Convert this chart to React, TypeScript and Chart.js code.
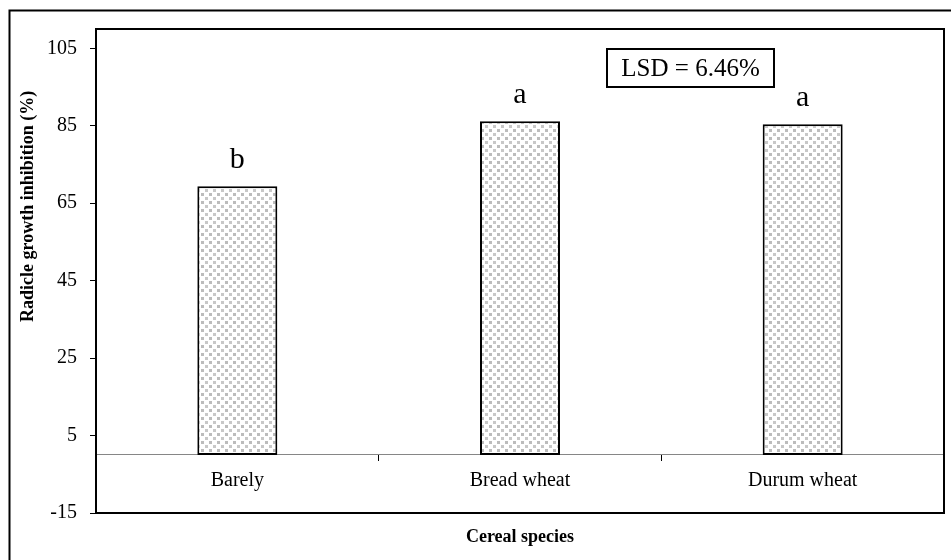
import React, { useEffect, useRef } from "react";
import { Chart, registerables } from "chart.js";

Chart.register(...registerables);

const categories = ["Barely", "Bread wheat", "Durum wheat"];
const inhibition = [69.4, 86.2, 85.4];
const letters = ["b", "a", "a"];
const yTicks = [-15, 5, 25, 45, 65, 85, 105];
const yMin = -15;
const yMax = 110;
const lsdLabel = "LSD = 6.46%";
const xTitle = "Cereal species";
const yTitle = "Radicle growth inhibition (%)";

const SERIF = "'Liberation Serif', 'Times New Roman', serif";

const decor = {
  id: "decor",
  afterDraw(chart: any) {
    const { ctx, chartArea: a } = chart;
    ctx.save();
    ctx.strokeStyle = "#000";
    ctx.lineWidth = 2;
    // outer frame (left and top visible)
    ctx.beginPath();
    ctx.moveTo(9.5, chart.height);
    ctx.lineTo(9.5, 10.5);
    ctx.lineTo(chart.width, 10.5);
    ctx.stroke();
    // plot frame
    ctx.strokeRect(a.left, a.top, a.right - a.left, a.bottom - a.top);

    // significance letters
    const meta = chart.getDatasetMeta(0);
    ctx.fillStyle = "#000";
    ctx.font = `30px ${SERIF}`;
    ctx.textAlign = "center";
    ctx.textBaseline = "alphabetic";
    meta.data.forEach((el: any, i: number) => {
      ctx.fillText(letters[i], el.x, el.y - 18);
    });

    // LSD box
    const bx = a.left + 511;
    const by = a.top + 20;
    const bw = 167;
    const bh = 38;
    ctx.strokeRect(bx, by, bw, bh);
    ctx.font = `25px ${SERIF}`;
    ctx.textBaseline = "middle";
    ctx.fillText(lsdLabel, bx + bw / 2, by + bh / 2 + 1);

    // axis titles
    ctx.font = `bold 18px ${SERIF}`;
    ctx.textAlign = "center";
    ctx.textBaseline = "middle";
    ctx.fillText(xTitle, (a.left + a.right) / 2, a.bottom + 24);

    ctx.save();
    ctx.translate(28, 322);
    ctx.rotate(-Math.PI / 2);
    ctx.textAlign = "left";
    ctx.fillText(yTitle, 0, 0);
    ctx.restore();

    ctx.restore();
  },
};

export default function App() {
  const ref = useRef<HTMLCanvasElement>(null);
  useEffect(() => {
    document.body.style.margin = "0";
    const canvas = ref.current!;
    const pc = document.createElement("canvas");
    pc.width = 8;
    pc.height = 8;
    const p = pc.getContext("2d")!;
    p.fillStyle = "#ffffff";
    p.fillRect(0, 0, 8, 8);
    p.fillStyle = "#bcbcbc";
    p.fillRect(1, 1, 3, 3);
    p.fillStyle = "#c8c8c8";
    p.fillRect(5, 5, 3, 3);
    const pattern = canvas.getContext("2d")!.createPattern(pc, "repeat")!;

    const chart = new Chart(canvas, {
      type: "bar",
      data: {
        labels: categories,
        datasets: [
          {
            data: inhibition,
            backgroundColor: pattern as any,
            borderColor: "#000",
            borderWidth: 2,
            borderSkipped: false,
            barPercentage: 0.283,
            categoryPercentage: 1,
          },
        ],
      },
      options: {
        responsive: false,
        animation: false,
        devicePixelRatio: 1,
        layout: { padding: { top: 29, right: 7, bottom: 47, left: 0 } },
        plugins: {
          legend: { display: false },
          tooltip: { enabled: false },
        },
        scales: {
          x: {
            position: { y: 0 } as any,
            offset: true,
            grid: {
              offset: true,
              drawOnChartArea: false,
              drawTicks: true,
              tickLength: 6,
              color: "#000",
              lineWidth: 1,
            },
            border: { display: true, color: "#868686", width: 1 },
            ticks: {
              color: "#000",
              font: { family: SERIF, size: 20 },
              padding: 8,
              maxRotation: 0,
            },
          },
          y: {
            min: yMin,
            max: yMax,
            afterBuildTicks: (s: any) => {
              s.ticks = yTicks.map((v) => ({ value: v }));
            },
            afterFit: (s: any) => {
              s.width = 96;
            },
            grid: {
              drawOnChartArea: false,
              drawTicks: true,
              tickLength: 6,
              color: "#000",
            },
            border: { display: false },
            ticks: {
              color: "#000",
              font: { family: SERIF, size: 20 },
              padding: 13,
            },
          },
        },
      },
      plugins: [decor],
    });
    return () => chart.destroy();
  }, []);
  return <canvas ref={ref} width={951} height={560} style={{ display: "block" }} />;
}
